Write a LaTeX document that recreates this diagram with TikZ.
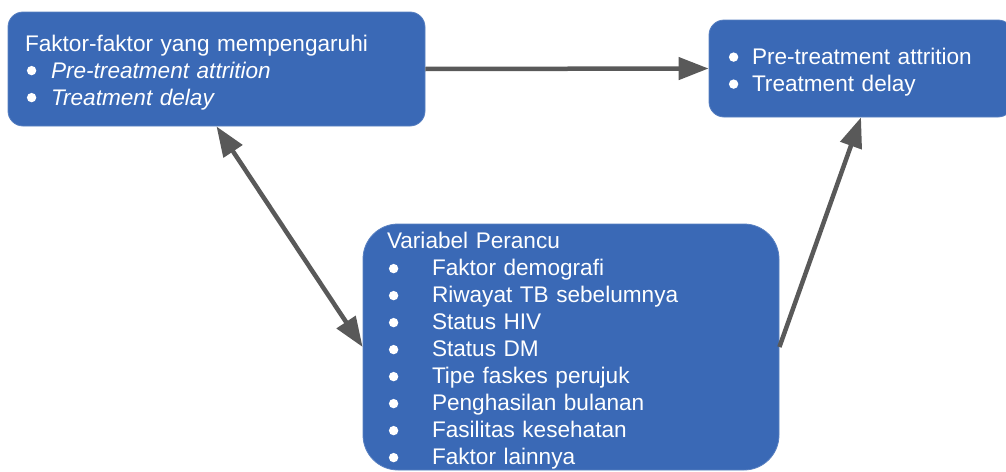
\documentclass[tikz,border=0pt]{standalone}
\usepackage{fontspec}
\setmainfont{Liberation Sans}
\usetikzlibrary{arrows.meta, positioning, calc}
\definecolor{kotakbiru}{HTML}{3A69B6}
\definecolor{panahabu}{HTML}{595959}

\newcommand{\butir}[1]{\makebox[26pt][l]{}#1}
\newcommand{\butirjauh}[1]{\makebox[45pt][l]{}#1}
\newcommand{\turun}{\rule{0pt}{24.5pt}}

\begin{document}
\begin{tikzpicture}[x=1pt, y=1pt,
    kotak/.style={fill=kotakbiru, draw=kotakbiru!85!white, line width=0.8pt,
        rounded corners=15pt, text=white, align=left,
        font=\fontsize{22.6}{27}\selectfont, inner xsep=17pt, inner ysep=0pt},
    titik/.style={fill=white},
    panah/.style={draw=panahabu, line width=4.5pt, -{Triangle[length=30pt,width=22pt]}},
    panahdua/.style={draw=panahabu, line width=4.5pt,
        {Triangle[length=30pt,width=22pt]}-{Triangle[length=30pt,width=22pt]}}]

\clip (0,0) rectangle (1006,-471);

% Kotak faktor-faktor yang mempengaruhi
\node[kotak, text width=383pt, minimum height=114pt] (faktor) at (216.5,-69)
    {\turun Faktor-faktor yang mempengaruhi\\
     \butir{\itshape Pre-treatment attrition}\\
     \butir{\itshape Treatment delay}};

% Kotak hasil
\node[kotak, text width=270pt, minimum height=97pt] (hasil) at (861,-68.5)
    {\turun\butir{Pre-treatment attrition}\\
     \butir{Treatment delay}};

% Kotak variabel perancu
\node[kotak, rounded corners=35pt, inner xsep=24pt, text width=368pt, minimum height=246pt] (perancu) at (571,-347)
    {\turun Variabel Perancu\\
     \butirjauh{Faktor demografi}\\
     \butirjauh{Riwayat TB sebelumnya}\\
     \butirjauh{Status HIV}\\
     \butirjauh{Status DM}\\
     \butirjauh{Tipe faskes perujuk}\\
     \butirjauh{Penghasilan bulanan}\\
     \butirjauh{Fasilitas kesehatan}\\
     \butirjauh{Faktor lainnya}};

% Titik butir
\foreach \k in {0,1}
{
    \fill[titik] ($(faktor.north west)+(24,-59-27*\k)$) circle (4.7);
    \fill[titik] ($(hasil.north west)+(25,-37.5-27*\k)$) circle (4.7);
}
\foreach \k in {0,...,7}
{
    \fill[titik] ($(perancu.north west)+(31,-45-27*\k)$) circle (4.7);
}

% Panah antar kotak
\draw[panah] (faktor.east) -- (hasil.west);
\draw[panahdua] (faktor.south) -- (perancu.west);
\draw[panah] (perancu.east) -- (hasil.south);

\end{tikzpicture}
\end{document}
